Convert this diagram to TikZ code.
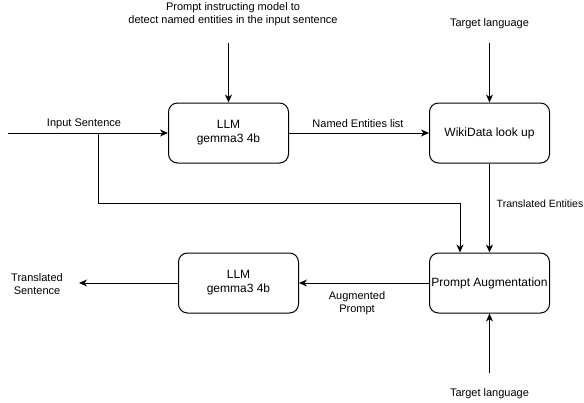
\documentclass[tikz,border=0pt]{standalone}
\usepackage{fontspec}
\setmainfont{Liberation Sans}
\usetikzlibrary{arrows.meta}
\begin{document}
\begin{tikzpicture}[x=1pt,y=-1pt,
  box/.style={draw,line width=1pt,rounded corners=9pt,minimum width=120pt,minimum height=60pt,align=center,font=\fontsize{12}{14}\selectfont,inner sep=0pt},
  lbl/.style={font=\fontsize{11}{13}\selectfont,align=center,inner sep=0pt},
  arr/.style={line width=1pt,-{Stealth[length=8pt,width=7pt,inset=2.5pt]}}]
\useasboundingbox (0,0) rectangle (584,402);
\node[box] (llm1) at (228.5,133) {LLM\\gemma3 4b};
\node[box] (wiki) at (489.5,133) {WikiData look up};
\node[box] (pa) at (489.5,283) {Prompt Augmentation};
\node[box] (llm2) at (238.5,283) {LLM\\gemma3 4b};
\node[lbl] (ptxt) at (233,14) {Prompt instructing model to\\detect named entities in the input sentence};
\node[lbl] (tl1) at (489.5,24) {Target language};
\node[lbl] (tl2) at (489.5,394) {Target language};
\node[lbl] (isl) at (84,124) {Input Sentence};
\node[lbl] (nel) at (358,124) {Named Entities list};
\node[lbl,anchor=east,font=\fontsize{10.5}{13}\selectfont] (tel) at (583.5,204) {Translated Entities};
\node[lbl] (apl) at (357,303) {Augmented\\Prompt};
\node[lbl] (tsl) at (37,284.5) {Translated\\Sentence};
\coordinate (pstart) at (228.5,43);
\coordinate (tl1s) at (489.5,43);
\coordinate (tl2s) at (489.5,373);
\coordinate (ins) at (7.5,133);
\coordinate (br) at (98,133);
\coordinate (outend) at (79,283);
\draw[arr] (pstart) -- (llm1.north);
\draw[arr] (tl1s) -- (wiki.north);
\draw[arr] (ins) -- (llm1.west);
\draw[arr] (llm1.east) -- (wiki.west);
\draw[arr] (wiki.south) -- (pa.north);
\draw[arr] (br) |- (460,203) -- (pa.north -| 460,0);
\draw[arr] (pa.west) -- (llm2.east);
\draw[arr] (llm2.west) -- (outend);
\draw[arr] (tl2s) -- (pa.south);
\end{tikzpicture}
\end{document}
